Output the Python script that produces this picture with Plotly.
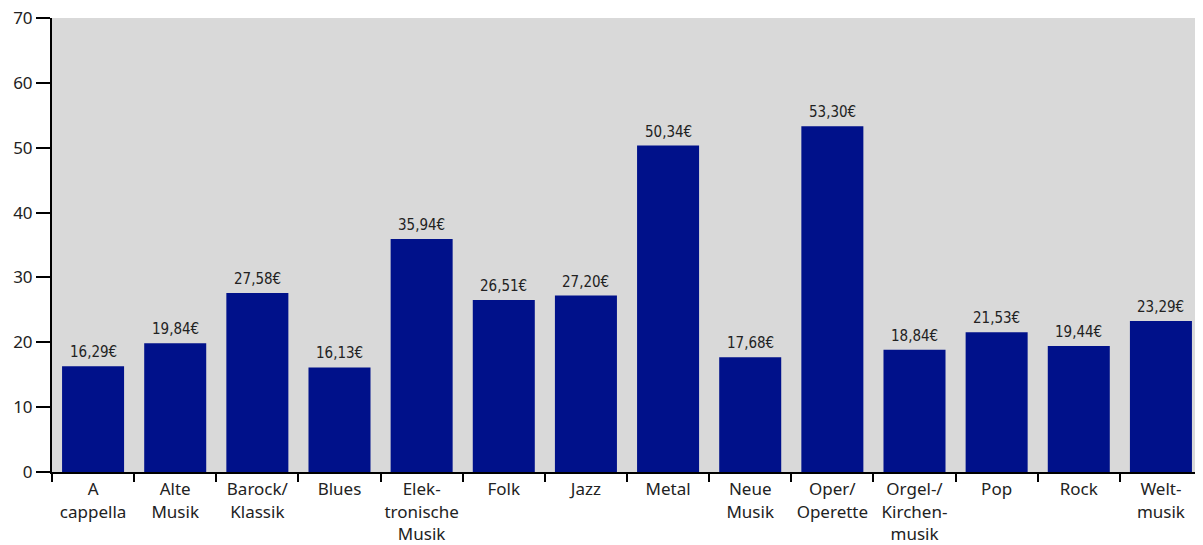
import plotly.graph_objects as go

categories = ["A<br>cappella", "Alte<br>Musik", "Barock/<br>Klassik", "Blues",
              "Elek-<br>tronische<br>Musik", "Folk", "Jazz", "Metal", "Neue<br>Musik",
              "Oper/<br>Operette", "Orgel-/<br>Kirchen-<br>musik", "Pop", "Rock", "Welt-<br>musik"]
values = [16.29, 19.84, 27.58, 16.13, 35.94, 26.51, 27.20, 50.34, 17.68, 53.30, 18.84, 21.53, 19.44, 23.29]
labels = [f"{v:.2f}".replace(".", ",") + "€" for v in values]
y_ticks = [0, 10, 20, 30, 40, 50, 60, 70]

fig = go.Figure()
fig.add_trace(go.Bar(x=categories, y=values, marker=dict(color="#00118a", line=dict(width=0)),
                     hoverinfo="skip"))
for c, v, t in zip(categories, values, labels):
    fig.add_annotation(x=c, y=v, text=t, showarrow=False, yanchor="bottom", yshift=3,
                       font=dict(family="DejaVu Sans Condensed, Liberation Sans Narrow", size=15, color="#222"))

# page body has an 8px default margin; figure sized to compensate
fig.update_layout(
    width=1195, height=537,
    margin=dict(l=44, r=1, t=10, b=73),
    plot_bgcolor="#d9d9d9", paper_bgcolor="white",
    bargap=0.245, showlegend=False,
    font=dict(family="Noto Sans, Open Sans, sans-serif", size=17, color="#222"),
)
fig.update_xaxes(type="category", tickson="boundaries", ticks="outside", ticklen=8, tickwidth=2,
                 tickcolor="black", showline=True, linecolor="black", linewidth=2,
                 showgrid=False, automargin=False, ticklabelstandoff=1, tickangle=0,
                 ticklabeloverflow="allow", tickfont=dict(size=17, color="#222"))
fig.update_yaxes(range=[0, 70], tickvals=y_ticks, ticks="outside", ticklen=14, tickwidth=2,
                 tickcolor="black", showline=True, linecolor="black", linewidth=2,
                 showgrid=False, zeroline=False, automargin=False, ticklabeloverflow="allow",
                 tickfont=dict(size=17, color="#222"))

fig.write_html("out.html")
